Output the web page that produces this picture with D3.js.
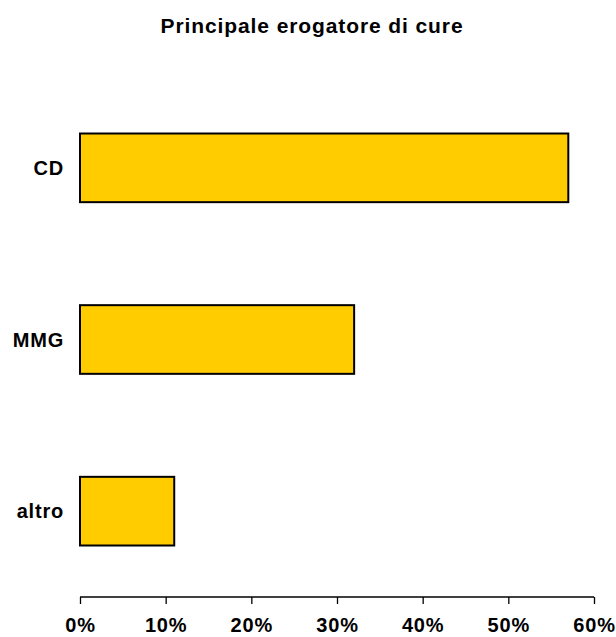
<!DOCTYPE html>
<html><head><meta charset="utf-8">
<script src="https://cdn.jsdelivr.net/npm/d3@7"></script>
<style>body{margin:0;background:#fff}</style>
</head><body>
<script>
const categories = ["CD", "MMG", "altro"];
const values = [57, 32, 11];
const tickValues = [0, 10, 20, 30, 40, 50, 60];
const title = "Principale erogatore di cure";

const W = 616, H = 637;
const svg = d3.select("body").append("svg").attr("width", W).attr("height", H);
const font = "'Liberation Sans', Arial, sans-serif";

const x = d3.scaleLinear().domain([0, 60]).range([80, 594]);
const y = d3.scaleBand().domain(categories).range([82, 597]).paddingInner(0.6).paddingOuter(0.3);

svg.append("text").attr("x", 312).attr("y", 33).attr("text-anchor", "middle")
  .attr("font-family", font).attr("font-weight", "bold").attr("font-size", 21)
  .attr("letter-spacing", 0.9)
  .text(title);

svg.selectAll("rect.bar").data(categories).enter().append("rect")
  .attr("class", "bar")
  .attr("x", x(0)).attr("y", d => y(d))
  .attr("width", (d, i) => x(values[i]) - x(0))
  .attr("height", y.bandwidth())
  .attr("fill", "#FFCC00").attr("stroke", "#000").attr("stroke-width", 2);

svg.selectAll("text.cat").data(categories).enter().append("text")
  .attr("class", "cat")
  .attr("x", 64).attr("y", d => y(d) + y.bandwidth() / 2 + 7)
  .attr("text-anchor", "end")
  .attr("font-family", font).attr("font-weight", "bold").attr("font-size", 20)
  .attr("letter-spacing", 0.8)
  .text(d => d);

const axis = d3.axisBottom(x).tickValues(tickValues).tickSize(7).tickPadding(14)
  .tickFormat(d => d + "%");
const g = svg.append("g").attr("transform", "translate(0,597)").call(axis);
g.select(".domain").attr("stroke", "#000").attr("stroke-width", 1.3).attr("d", "M80,0H594");
g.selectAll(".tick line").attr("stroke", "#000").attr("stroke-width", 1.3);
g.selectAll(".tick text").attr("font-family", font).attr("font-weight", "bold")
  .attr("font-size", 20).attr("letter-spacing", 0.8).attr("fill", "#000")
  .attr("y", 35).attr("dy", null);
</script>
</body></html>
